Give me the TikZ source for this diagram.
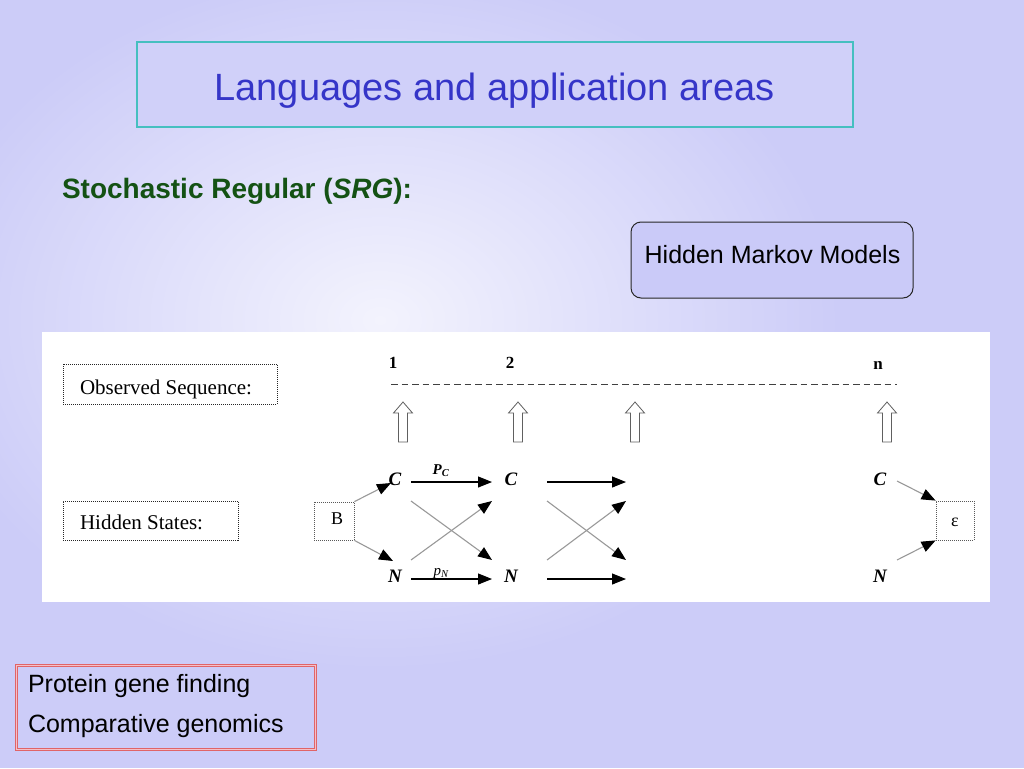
\documentclass[tikz,border=0pt]{standalone}
\usepackage{fontspec}
\setmainfont{Liberation Serif}
\setsansfont{Liberation Sans}
\usetikzlibrary{arrows.meta}
\definecolor{bgc}{HTML}{CCCCF8}
\definecolor{glow}{HTML}{F3F3FD}
\definecolor{titleblue}{HTML}{3535C8}
\definecolor{tealb}{HTML}{45BFC0}
\definecolor{sgreen}{HTML}{145214}
\definecolor{hmmfill}{HTML}{CACAF8}
\definecolor{redb}{HTML}{E06468}
\definecolor{pinkb}{HTML}{F4C0C8}
\tikzset{
  lbl/.style={inner sep=0pt, outer sep=0pt},
  sbox/.style={draw=black!85, dash pattern=on 1pt off 1pt, line width=0.8pt, inner sep=0pt},
  hl/.style={draw=black, line width=1.1pt, -{Triangle[length=14pt,width=11pt]}},
  gl/.style={draw=gray!80, line width=1.1pt, -{Triangle[length=14pt,width=11pt,color=black]}},
  st/.style={lbl, font=\fontsize{19}{19}\selectfont\bfseries\itshape},
  num/.style={lbl, font=\fontsize{17}{17}\selectfont\bfseries},
  hup/.pic={\draw[gray!75!black, line width=0.8pt, fill=white]
     (-4.5,0) -- (-4.5,-29) -- (-9.5,-29) -- (0,-40) -- (9.5,-29) -- (4.5,-29) -- (4.5,0) -- cycle;}
}
\begin{document}
\begin{tikzpicture}[x=1pt,y=-1pt]
\useasboundingbox (0,0) rectangle (1024,768);
\fill[bgc] (0,0) rectangle (1024,768);
\begin{scope}
  \clip (0,0) rectangle (1024,768);
  \shade[inner color=glow, outer color=bgc] (380,320) ellipse [x radius=460, y radius=350];
\end{scope}

% title
\node[draw=tealb, line width=1.2pt, fill=bgc!92!white, minimum width=716pt, minimum height=85pt, inner sep=0pt] (titlebox) at (495,84.5) {};
\node[lbl, anchor=base, text=titleblue, font=\sffamily\fontsize{38}{40}\selectfont] (title) at (494.5,100) {Languages and application areas};

% subtitle
\node[lbl, anchor=base west, text=sgreen, font=\sffamily\bfseries\fontsize{28}{30}\selectfont] (srg) at (62,198) {Stochastic Regular (\textit{SRG}):};

% HMM box
\node[draw=black!85, line width=1pt, rounded corners=10pt, fill=hmmfill, minimum width=282pt, minimum height=76pt, inner sep=0pt] (hmmbox) at (772,260) {};
\node[lbl, anchor=base, font=\sffamily\fontsize{25}{27}\selectfont] (hmmtext) at (772.5,263) {Hidden Markov Models};

% white panel
\node[fill=white, minimum width=948pt, minimum height=270pt, inner sep=0pt] (panel) at (516,467) {};

% left boxes
\node[sbox, minimum width=214pt, minimum height=40pt] (obsbox) at (170,384) {};
\node[lbl, anchor=base west, font=\fontsize{21}{21}\selectfont] (obstext) at (80,394) {Observed Sequence:};
\node[sbox, minimum width=175pt, minimum height=39pt] (hidbox) at (150.5,520.5) {};
\node[lbl, anchor=base west, font=\fontsize{21}{21}\selectfont] (hidtext) at (80,529) {Hidden States:};

% position numbers and dashed line
\node[num, anchor=base] (p1) at (393,368) {1};
\node[num, anchor=base] (p2) at (510,368) {2};
\node[num, anchor=base] (pn) at (878,369) {n};
\coordinate (dl) at (391,384);
\coordinate (dr) at (897,384);
\draw[black!75, line width=1pt, dash pattern=on 6.5pt off 4pt] (dl) -- (dr);

% hollow arrows
\pic at (403,442) {hup};
\pic at (518,442) {hup};
\pic at (635,442) {hup};
\pic at (887,442) {hup};

% states
\node[st, anchor=base] (c1) at (395,485) {C};
\node[st, anchor=base] (n1) at (395,582) {N};
\node[st, anchor=base] (c2) at (511,485) {C};
\node[st, anchor=base] (n2) at (511,582) {N};
\node[st, anchor=base] (cn) at (880,485) {C};
\node[st, anchor=base] (nn) at (880,582) {N};

\node[sbox, draw=black!65, minimum width=40pt, minimum height=38pt] (b) at (334,521) {};
\node[lbl, anchor=base, font=\fontsize{18}{18}\selectfont] (btext) at (337,524) {B};
\node[sbox, draw=black!65, minimum width=38pt, minimum height=39pt] (eps) at (955,520.5) {};
\node[lbl, anchor=base, font=\fontsize{18}{18}\selectfont] (epstext) at (955,526) {ε};

% probability labels
\node[lbl, anchor=base, font=\fontsize{15}{15}\selectfont\bfseries\itshape] (pc) at (441,474) {P\textsubscript{C}};
\node[lbl, anchor=base, font=\fontsize{15}{15}\selectfont\itshape] (pnl) at (441,575) {p\textsubscript{N}};

% transitions step 1
\draw[gl] (b.north east) -- ([shift={(-4,-2)}]c1.base);
\draw[gl] (b.south east) -- ([shift={(-2,-21)}]n1.base);
\draw[hl] ([shift={(16,-3)}]c1.base) -- ([shift={(-19,-3)}]c2.base);
\draw[hl] ([shift={(16,-3)}]n1.base) -- ([shift={(-19,-3)}]n2.base);
\draw[gl] ([shift={(16,16)}]c1.base) -- ([shift={(-19,-22)}]n2.base);
\draw[gl] ([shift={(16,-22)}]n1.base) -- ([shift={(-19,16)}]c2.base);

% transitions step 2
\coordinate (c3) at (626,482);
\coordinate (n3) at (626,579);
\coordinate (x3a) at (626,560);
\coordinate (x3b) at (626,501);
\draw[hl] ([shift={(36,-3)}]c2.base) -- (c3);
\draw[hl] ([shift={(36,-3)}]n2.base) -- (n3);
\draw[gl] ([shift={(36,16)}]c2.base) -- (x3a);
\draw[gl] ([shift={(36,-22)}]n2.base) -- (x3b);

% end transitions
\draw[gl] ([shift={(17,-4)}]cn.base) -- (eps.north west);
\draw[gl] ([shift={(17,-22)}]nn.base) -- (eps.south west);

% application box
\node[draw=redb, line width=1pt, double=pinkb, double distance=1.5pt, fill=bgc, minimum width=299pt, minimum height=84pt, inner sep=0pt] (apps) at (166,707.5) {};
\node[lbl, anchor=base west, font=\sffamily\fontsize{25}{27}\selectfont] (app1) at (28,692) {Protein gene finding};
\node[lbl, anchor=base west, font=\sffamily\fontsize{25}{27}\selectfont] (app2) at (28,732) {Comparative genomics};
\end{tikzpicture}
\end{document}
